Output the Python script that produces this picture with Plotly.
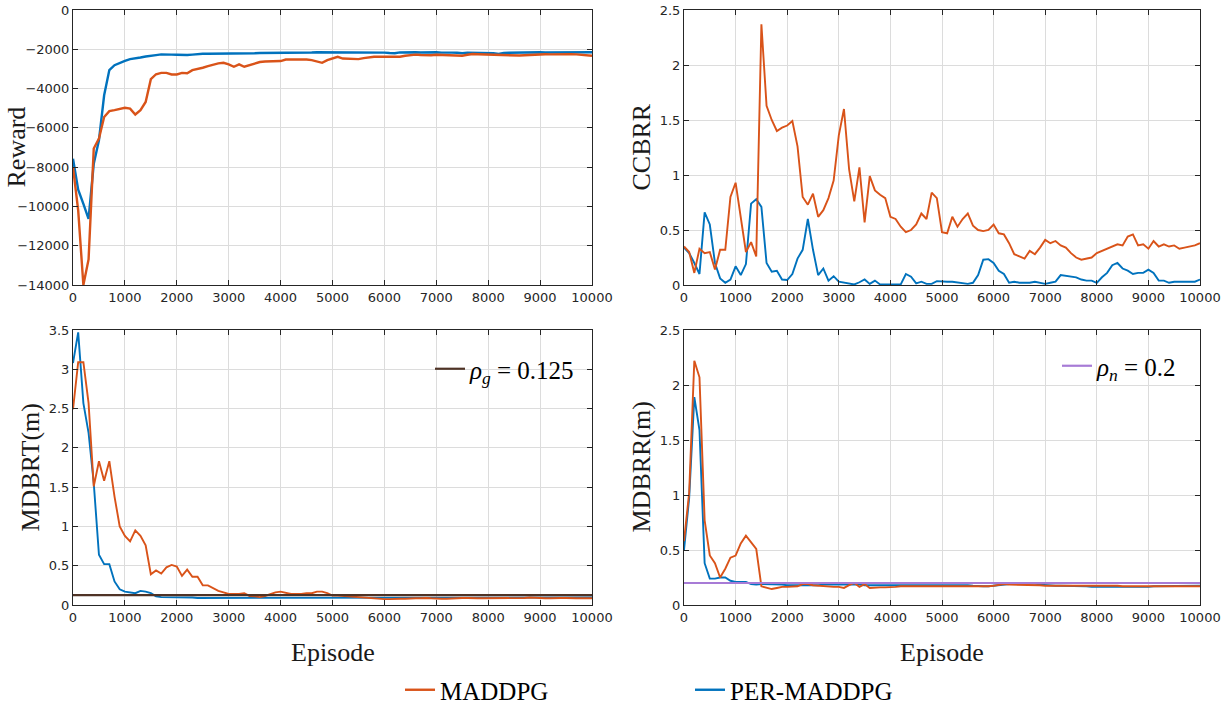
import plotly.graph_objects as go

EPISODES = list(range(0, 10001, 100))

REWARD_MADDPG = [-8000, -10200, -14000, -12700, -7050, -6550, -5450, -5150, -5100, -5050,
                 -4980, -5020, -5320, -5100, -4680, -3520, -3270, -3200, -3200, -3280,
                 -3280, -3200, -3220, -3060, -3010, -2940, -2860, -2790, -2720, -2690,
                 -2770, -2890, -2770, -2890, -2810, -2720, -2650, -2620, -2620, -2620,
                 -2600, -2520, -2520, -2520, -2500, -2520, -2550, -2620, -2690, -2550,
                 -2450, -2380, -2470, -2480, -2470, -2500, -2450, -2410, -2380, -2380,
                 -2380, -2370, -2400, -2380, -2330, -2300, -2270, -2290, -2300, -2300,
                 -2280, -2290, -2300, -2280, -2310, -2330, -2280, -2240, -2250, -2260,
                 -2280, -2300, -2310, -2290, -2300, -2320, -2320, -2300, -2280, -2270,
                 -2260, -2250, -2260, -2250, -2270, -2260, -2250, -2260, -2280, -2300, -2330]

REWARD_PER = [-7570, -9150, -9870, -10630, -7830, -6630, -4340, -3060, -2810, -2690,
              -2590, -2500, -2470, -2420, -2370, -2350, -2300, -2260, -2250, -2270,
              -2280, -2290, -2290, -2270, -2240, -2230, -2230, -2230, -2230, -2230,
              -2220, -2220, -2210, -2220, -2210, -2200, -2190, -2190, -2190, -2190,
              -2180, -2170, -2190, -2180, -2180, -2170, -2160, -2150, -2150, -2160,
              -2160, -2170, -2170, -2160, -2160, -2170, -2170, -2170, -2180, -2170,
              -2170, -2190, -2200, -2160, -2150, -2140, -2150, -2160, -2150, -2150,
              -2150, -2170, -2160, -2170, -2180, -2200, -2170, -2170, -2170, -2180,
              -2190, -2200, -2240, -2190, -2180, -2170, -2160, -2160, -2150, -2150,
              -2150, -2160, -2160, -2170, -2170, -2150, -2140, -2140, -2150, -2150, -2150]

CCBRR_MADDPG = [0.35, 0.30, 0.11, 0.33, 0.29, 0.30, 0.14, 0.32, 0.32, 0.80,
                0.93, 0.62, 0.30, 0.39, 0.26, 2.37, 1.63, 1.50, 1.40, 1.43,
                1.45, 1.49, 1.26, 0.80, 0.73, 0.83, 0.62, 0.68, 0.79, 0.95,
                1.36, 1.60, 1.05, 0.76, 1.07, 0.57, 0.99, 0.86, 0.82, 0.79,
                0.62, 0.60, 0.53, 0.48, 0.50, 0.55, 0.65, 0.60, 0.84, 0.79,
                0.48, 0.47, 0.62, 0.53, 0.60, 0.65, 0.54, 0.50, 0.49, 0.50,
                0.55, 0.47, 0.46, 0.38, 0.28, 0.26, 0.24, 0.31, 0.28, 0.34,
                0.41, 0.38, 0.40, 0.36, 0.34, 0.29, 0.25, 0.23, 0.24, 0.25,
                0.29, 0.31, 0.33, 0.35, 0.37, 0.36, 0.44, 0.46, 0.36, 0.37,
                0.33, 0.40, 0.35, 0.37, 0.35, 0.36, 0.33, 0.34, 0.35, 0.36, 0.38]

CCBRR_PER = [0.34, 0.29, 0.20, 0.10, 0.66, 0.55, 0.20, 0.06, 0.02, 0.05,
             0.17, 0.09, 0.19, 0.74, 0.78, 0.71, 0.20, 0.12, 0.13, 0.05,
             0.045, 0.10, 0.24, 0.32, 0.60, 0.32, 0.09, 0.15, 0.04, 0.08,
             0.03, 0.02, 0.012, 0.005, 0.025, 0.05, 0.01, 0.04, 0.005, 0.005,
             0.005, 0.005, 0.005, 0.10, 0.075, 0.015, 0.03, 0.01, 0.01, 0.035,
             0.03, 0.03, 0.03, 0.025, 0.02, 0.01, 0.02, 0.09, 0.23, 0.235,
             0.20, 0.13, 0.10, 0.02, 0.03, 0.02, 0.02, 0.02, 0.03, 0.02,
             0.01, 0.02, 0.03, 0.09, 0.085, 0.08, 0.07, 0.05, 0.04, 0.04,
             0.02, 0.07, 0.11, 0.18, 0.20, 0.15, 0.13, 0.10, 0.11, 0.11,
             0.14, 0.11, 0.04, 0.04, 0.02, 0.03, 0.03, 0.03, 0.035, 0.03, 0.05]

MDBRT_MADDPG = [2.49, 3.09, 3.09, 2.57, 1.51, 1.83, 1.58, 1.83, 1.38, 1.00,
                0.88, 0.81, 0.95, 0.88, 0.76, 0.39, 0.44, 0.40, 0.48, 0.51,
                0.49, 0.37, 0.45, 0.36, 0.36, 0.25, 0.25, 0.21, 0.18, 0.16,
                0.14, 0.14, 0.14, 0.15, 0.115, 0.11, 0.10, 0.115, 0.14, 0.16,
                0.17, 0.15, 0.14, 0.14, 0.14, 0.15, 0.15, 0.17, 0.17, 0.15,
                0.12, 0.12, 0.115, 0.11, 0.105, 0.10, 0.09, 0.085, 0.08, 0.075,
                0.075, 0.075, 0.08, 0.08, 0.08, 0.085, 0.085, 0.085, 0.09, 0.085,
                0.08, 0.08, 0.08, 0.085, 0.085, 0.09, 0.09, 0.085, 0.085, 0.085,
                0.085, 0.085, 0.085, 0.085, 0.09, 0.09, 0.085, 0.09, 0.095, 0.09,
                0.09, 0.085, 0.085, 0.09, 0.09, 0.09, 0.085, 0.085, 0.085, 0.085, 0.085]

MDBRT_PER = [3.08, 3.47, 2.57, 2.19, 1.55, 0.64, 0.52, 0.52, 0.30, 0.20,
             0.17, 0.16, 0.15, 0.18, 0.17, 0.15, 0.11, 0.10, 0.10, 0.10,
             0.10, 0.10, 0.095, 0.095, 0.09, 0.09, 0.09, 0.09, 0.09, 0.09,
             0.09, 0.09, 0.09, 0.09, 0.09, 0.09, 0.09, 0.09, 0.09, 0.09,
             0.09, 0.09, 0.09, 0.09, 0.09, 0.09, 0.09, 0.09, 0.09, 0.09,
             0.09, 0.09, 0.09, 0.09, 0.09, 0.09, 0.09, 0.09, 0.09, 0.09,
             0.09, 0.09, 0.09, 0.09, 0.09, 0.09, 0.09, 0.09, 0.09, 0.09,
             0.09, 0.09, 0.09, 0.09, 0.09, 0.09, 0.09, 0.09, 0.09, 0.09,
             0.09, 0.09, 0.09, 0.09, 0.09, 0.095, 0.095, 0.095, 0.095, 0.095,
             0.095, 0.095, 0.095, 0.095, 0.095, 0.095, 0.095, 0.095, 0.095, 0.095, 0.095]

MDBRR_MADDPG = [0.58, 1.02, 2.22, 2.07, 0.77, 0.45, 0.38, 0.25, 0.33, 0.43,
                0.45, 0.56, 0.63, 0.57, 0.51, 0.17, 0.16, 0.145, 0.155, 0.165,
                0.165, 0.165, 0.17, 0.19, 0.19, 0.18, 0.175, 0.175, 0.17, 0.165,
                0.165, 0.155, 0.18, 0.20, 0.165, 0.19, 0.155, 0.16, 0.16, 0.16,
                0.16, 0.165, 0.17, 0.17, 0.17, 0.17, 0.165, 0.17, 0.17, 0.165,
                0.17, 0.17, 0.165, 0.165, 0.165, 0.165, 0.165, 0.165, 0.165, 0.17,
                0.175, 0.18, 0.19, 0.185, 0.185, 0.18, 0.18, 0.18, 0.185, 0.18,
                0.175, 0.175, 0.175, 0.175, 0.18, 0.18, 0.18, 0.175, 0.175, 0.175,
                0.175, 0.175, 0.175, 0.175, 0.175, 0.17, 0.17, 0.17, 0.17, 0.17,
                0.17, 0.17, 0.17, 0.17, 0.175, 0.175, 0.175, 0.175, 0.17, 0.17, 0.17]

MDBRR_PER = [0.50, 0.97, 1.89, 1.59, 0.38, 0.24, 0.24, 0.25, 0.25, 0.22,
             0.21, 0.21, 0.21, 0.19, 0.185, 0.19, 0.19, 0.185, 0.185, 0.185,
             0.18, 0.18, 0.175, 0.175, 0.175, 0.18, 0.18, 0.185, 0.185, 0.185,
             0.185, 0.185, 0.185, 0.19, 0.185, 0.18, 0.18, 0.18, 0.18, 0.18,
             0.18, 0.18, 0.18, 0.18, 0.185, 0.185, 0.185, 0.185, 0.185, 0.185,
             0.185, 0.185, 0.185, 0.18, 0.18, 0.18, 0.175, 0.17, 0.17, 0.17,
             0.175, 0.18, 0.19, 0.195, 0.195, 0.195, 0.195, 0.19, 0.195, 0.185,
             0.18, 0.18, 0.175, 0.175, 0.175, 0.175, 0.17, 0.17, 0.17, 0.165,
             0.165, 0.165, 0.165, 0.16, 0.16, 0.16, 0.165, 0.165, 0.165, 0.165,
             0.165, 0.17, 0.17, 0.17, 0.17, 0.175, 0.175, 0.175, 0.175, 0.175, 0.175]

RHO_G = 0.125
RHO_N = 0.2
REF_X = [0, 10000]

ORANGE = "#D95319"
BLUE = "#0072BD"
BROWN = "#4F3326"
PURPLE = "#A77BD6"
SERIF = "Liberation Serif"
SANS = "DejaVu Sans"

W, H = 1228, 703

def px_x(p):
    return p / W

def px_y(p):
    return 1 - p / H

fig = go.Figure()

panels = [
    ("x", "y", REWARD_MADDPG, REWARD_PER, 2.4),
    ("x2", "y2", CCBRR_MADDPG, CCBRR_PER, 1.9),
    ("x3", "y3", MDBRT_MADDPG, MDBRT_PER, 1.9),
    ("x4", "y4", MDBRR_MADDPG, MDBRR_PER, 1.9),
]

for i, (xa, ya, mad, per, lw) in enumerate(panels):
    fig.add_trace(go.Scatter(x=EPISODES, y=per, mode="lines", name="PER-MADDPG",
                             line=dict(color=BLUE, width=lw), xaxis=xa, yaxis=ya,
                             showlegend=(i == 0), legendrank=2))
    fig.add_trace(go.Scatter(x=EPISODES, y=mad, mode="lines", name="MADDPG",
                             line=dict(color=ORANGE, width=lw), xaxis=xa, yaxis=ya,
                             showlegend=(i == 0), legendrank=1))

fig.add_trace(go.Scatter(x=REF_X, y=[RHO_G, RHO_G], mode="lines",
                         name="<i>ρ</i><sub><i>g</i></sub> = 0.125",
                         line=dict(color=BROWN, width=2.2), xaxis="x3", yaxis="y3",
                         legend="legend2"))
fig.add_trace(go.Scatter(x=REF_X, y=[RHO_N, RHO_N], mode="lines",
                         name="<i>ρ</i><sub><i>n</i></sub> = 0.2",
                         line=dict(color=PURPLE, width=2.2), xaxis="x4", yaxis="y4",
                         legend="legend3"))

left_dom = [px_x(73), px_x(592)]
right_dom = [px_x(684), px_x(1200)]
top_dom = [px_y(285), px_y(10)]
bot_dom = [px_y(605), px_y(330)]

axis_common = dict(
    showline=True, linecolor="#262626", linewidth=1, mirror="ticks",
    ticks="inside", ticklen=5, tickcolor="#262626", automargin=False,
    ticklabeloverflow="allow",
    showgrid=True, gridcolor="#DCDCDC", gridwidth=1, zeroline=False,
    tickfont=dict(family=SANS, size=13, color="#262626"),
)

xcommon = dict(axis_common, range=[0, 10000], dtick=1000, tickformat="d")

fig.update_layout(
    width=W, height=H, margin=dict(l=0, r=0, t=0, b=0, autoexpand=False),
    paper_bgcolor="white", plot_bgcolor="white",
    font=dict(family=SERIF, color="black"),
    xaxis=dict(xcommon, domain=left_dom, anchor="y"),
    yaxis=dict(axis_common, domain=top_dom, anchor="x", range=[-14000, 0], dtick=2000, tickformat="d"),
    xaxis2=dict(xcommon, domain=right_dom, anchor="y2"),
    yaxis2=dict(axis_common, domain=top_dom, anchor="x2", range=[0, 2.5], dtick=0.5),
    xaxis3=dict(xcommon, domain=left_dom, anchor="y3"),
    yaxis3=dict(axis_common, domain=bot_dom, anchor="x3", range=[0, 3.5], dtick=0.5),
    xaxis4=dict(xcommon, domain=right_dom, anchor="y4"),
    yaxis4=dict(axis_common, domain=bot_dom, anchor="x4", range=[0, 2.5], dtick=0.5),
    legend=dict(orientation="h", x=px_x(400), y=px_y(690), xanchor="left", yanchor="middle",
                entrywidth=245, entrywidthmode="pixels", bgcolor="rgba(0,0,0,0)",
                font=dict(family=SERIF, size=25, color="black"), traceorder="normal"),
    legend2=dict(x=px_x(430), y=px_y(369), xanchor="left", yanchor="middle",
                 bgcolor="rgba(0,0,0,0)", font=dict(family=SERIF, size=25, color="black")),
    legend3=dict(x=px_x(1057), y=px_y(366), xanchor="left", yanchor="middle",
                 bgcolor="rgba(0,0,0,0)", font=dict(family=SERIF, size=25, color="black")),
    showlegend=True,
)

titles = [
    ("Reward", px_x(16), (top_dom[0] + top_dom[1]) / 2, -90),
    ("CCBRR", px_x(641), (top_dom[0] + top_dom[1]) / 2, -90),
    ("MDBRT(m)", px_x(30), (bot_dom[0] + bot_dom[1]) / 2, -90),
    ("MDBRR(m)", px_x(641), (bot_dom[0] + bot_dom[1]) / 2, -90),
    ("Episode", (left_dom[0] + left_dom[1]) / 2, px_y(652), 0),
    ("Episode", (right_dom[0] + right_dom[1]) / 2, px_y(652), 0),
]
for text, x, y, ang in titles:
    fig.add_annotation(text=text, x=x, y=y, xref="paper", yref="paper",
                       xanchor="center", yanchor="middle", showarrow=False,
                       textangle=ang, font=dict(family=SERIF, size=26, color="#1a1a1a"))

fig.write_html("out.html", config={"displayModeBar": False},
               post_script="document.body.style.margin='0px';document.body.style.overflow='hidden';")
